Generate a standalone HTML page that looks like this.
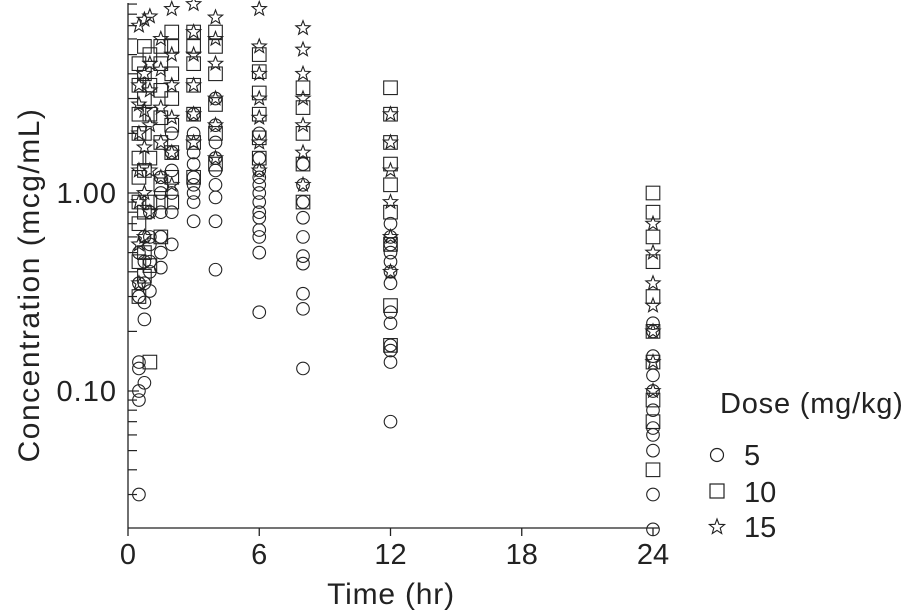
<!DOCTYPE html>
<html><head><meta charset="utf-8"><style>
html,body{margin:0;padding:0;background:#fff;}
svg{display:block;font-family:"Liberation Sans",Arial,sans-serif;}
</style></head><body>
<svg id="chart" width="913" height="611" viewBox="0 0 913 611" xmlns="http://www.w3.org/2000/svg">
<g id="axes"></g>
<g id="marks"></g>
<text x="391" y="604" font-size="30" letter-spacing="0.8" text-anchor="middle" fill="#222">Time (hr)</text>
<text transform="translate(39,285) rotate(-90)" font-size="30" letter-spacing="1.5" text-anchor="middle" fill="#222">Concentration (mcg/mL)</text>
<g>
<text x="720" y="413" font-size="29" letter-spacing="0.8" fill="#222">Dose (mg/kg)</text>
<g><circle cx="717" cy="455" r="6.5" fill="none" stroke="#222" stroke-width="1.2"/><text x="744" y="465" font-size="29" fill="#222">5</text></g>
<g><rect x="710" y="484" width="14" height="14" fill="none" stroke="#222" stroke-width="1.2"/><text x="744" y="502" font-size="29" fill="#222">10</text></g>
<g><path id="legstar" fill="none" stroke="#222" stroke-width="1.1"/><text x="744" y="537" font-size="29" fill="#222">15</text></g>
</g>
</svg>
<script>
const times = [0.5, 0.75, 1, 1.5, 2, 3, 4, 6, 8, 12, 24];
const dose5 = [
 [0.03,0.09,0.10,0.13,0.14,0.3,0.35,0.5],
 [0.11,0.23,0.28,0.35,0.45,0.6],
 [0.32,0.4,0.45,0.55,0.6,0.8],
 [0.42,0.5,0.6,0.8,1.0,1.2],
 [0.55,0.8,1.0,1.3,1.6,2],
 [0.72,0.9,1.0,1.1,1.2,1.4,1.6,2.0,2.5],
 [0.41,0.72,0.95,1.1,1.3,1.5,1.8,2.2,3],
 [0.25,0.5,0.6,0.65,0.75,0.8,0.9,1.0,1.1,1.2,1.3,1.5,2],
 [0.13,0.26,0.31,0.44,0.48,0.6,0.75,0.9,1.1,1.4],
 [0.07,0.14,0.16,0.17,0.22,0.25,0.35,0.4,0.45,0.5,0.55,0.6,0.7],
 [0.02,0.03,0.05,0.06,0.065,0.08,0.1,0.12,0.15,0.2,0.22]
];
const dose10 = [
 [0.3,0.45,0.7,0.9,1.2,1.5,2,2.5,3.5,4.5],
 [0.38,0.5,0.8,1.3,2,3,4,5.5],
 [0.14,0.43,0.9,1.5,2.5,3.5,5],
 [0.6,0.9,1.1,1.8,2.4,3.3,4.5,5.5],
 [0.9,1.2,1.6,2.2,3,4,5.5,6.5],
 [1.2,1.8,2.5,3.5,4.5,5.5,6.5],
 [1.4,2,2.8,4,5.5,6.5],
 [1.5,1.9,2.5,3.2,4.1,5],
 [0.9,1.4,2,2.7,3.4],
 [0.17,0.27,0.55,0.8,1.1,1.4,1.8,2.5,3.4],
 [0.04,0.07,0.09,0.14,0.2,0.3,0.45,0.6,0.8,1.0]
];
const dose15 = [
 [0.35,0.55,0.9,1.3,2,2.8,3.5,7],
 [0.6,1,1.7,2.6,4,7.5],
 [0.8,1.3,2.2,3.3,4.5,7.8],
 [1.2,1.8,2.7,4.2,6],
 [1.1,1.6,2.4,3.5,5,8.5],
 [1.8,2.5,3.5,5,6.5,9],
 [1.5,2.2,3,4.5,6,7.7],
 [1.3,1.8,2.4,3,4,5.5,8.5],
 [1.1,1.6,2.2,3,4,5.3,6.8],
 [0.4,0.6,0.9,1.3,1.8,2.5],
 [0.1,0.14,0.2,0.27,0.35,0.5,0.7]
];
const xTicks = [0, 6, 12, 18, 24];
const yMajor = [0.1, 1];
const yMajorLabels = ["0.10", "1.00"];

const NS = "http://www.w3.org/2000/svg";
const X0 = 128, XS = 21.875, Y1 = 193, DEC = 198, AXB = 528, AXT = 3;
function xs(t){ return X0 + t*XS; }
function ys(v){ return Y1 - Math.log10(v)*DEC; }
function mk(tag, attrs, parent){ const e=document.createElementNS(NS,tag); for(const k in attrs) e.setAttribute(k,attrs[k]); parent.appendChild(e); return e; }
function starPath(cx, cy, R){
  const r=R*0.42; let d="";
  for(let i=0;i<10;i++){ const a=-Math.PI/2+i*Math.PI/5; const rr=i%2?r:R; d+=(i?"L":"M")+(cx+rr*Math.cos(a)).toFixed(2)+","+(cy+rr*Math.sin(a)).toFixed(2); }
  return d+"Z";
}
document.getElementById('legstar').setAttribute('d', starPath(717,527,8));

const axes = document.getElementById('axes');
const yAxis = mk('line',{x1:X0,y1:AXT,x2:X0,y2:AXB,stroke:'#222','stroke-width':1.3},axes);


const xAxis = mk('line',{x1:X0,y1:AXB,x2:xs(24)+6,y2:AXB,stroke:'#222','stroke-width':1.3},axes);


xTicks.forEach(t=>{
  const l=mk('line',{x1:xs(t),y1:AXB,x2:xs(t),y2:AXB+8,stroke:'#222','stroke-width':1.3},axes);
  
  
  const tx=mk('text',{x:xs(t),y:AXB+36,'font-size':29,'text-anchor':'middle',fill:'#222'},axes);
  tx.textContent=t;
  
  
});
for(let dec=-2; dec<=0; dec++){
  for(let m=1;m<=9;m++){
    const v=m*Math.pow(10,dec); const y=ys(v);
    if(y>AXB||y<AXT) continue;
    const major = m===1;
    const l=mk('line',{x1:X0,y1:y,x2:X0+(major?11:9),y2:y,stroke:'#222','stroke-width':1.2},axes);
    
    
  }
}
yMajor.forEach((v,i)=>{
  const tx=mk('text',{x:117,y:ys(v)+10,'font-size':29,'letter-spacing':'1','text-anchor':'end',fill:'#222'},axes);
  tx.textContent=yMajorLabels[i];
  
  
});

const marks = document.getElementById('marks');
function draw(series, kind){
  series.forEach((vals, ti)=>{
    vals.forEach(v=>{
      const cx=xs(times[ti]), cy=ys(v); let e;
      if(kind==='circle') e=mk('circle',{cx:cx,cy:cy,r:6.3,fill:'none',stroke:'#222','stroke-width':1.1},marks);
      else if(kind==='square') e=mk('rect',{x:cx-6.8,y:cy-6.8,width:13.6,height:13.6,fill:'none',stroke:'#222','stroke-width':1.1},marks);
      else e=mk('path',{d:starPath(cx,cy,7.5),fill:'none',stroke:'#222','stroke-width':1.1},marks);
      
      
    });
  });
}
draw(dose5,'circle');
draw(dose10,'square');
draw(dose15,'star');
</script>
</body></html>
